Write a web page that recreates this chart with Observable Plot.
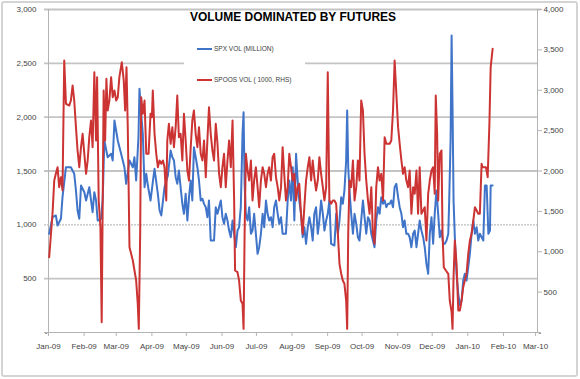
<!DOCTYPE html>
<html>
<head>
<meta charset="utf-8">
<script src="https://cdn.jsdelivr.net/npm/d3@7"></script>
<script src="https://cdn.jsdelivr.net/npm/@observablehq/plot@0.6"></script>
<style>
html,body{margin:0;padding:0;background:#fff;}
#wrap{position:relative;width:580px;height:379px;overflow:hidden;font-family:"Liberation Sans",Arial,sans-serif;}
#chart svg{display:block;}
#legend{position:absolute;left:184px;top:34px;width:121px;height:62px;background:#fff;font-size:6.5px;color:#404040;}
#legend .row{position:absolute;left:13px;height:8px;line-height:8px;white-space:nowrap;}
#legend .sw{position:absolute;left:0;top:3px;width:15px;height:2px;}
#legend .lbl{position:absolute;left:17px;top:0;}
#border{position:absolute;left:1px;top:1px;width:577px;height:376px;box-sizing:border-box;border:2px solid #d4d4d4;border-radius:3px;pointer-events:none;}
</style>
</head>
<body>
<div id="wrap">
  <div id="chart"></div>
  <div id="legend"></div>
  <div id="border"></div>
</div>
<script>
// ---- data (days since 2009-01-01) ----
const chartTitle = "VOLUME DOMINATED BY FUTURES";
const seriesNames = ["SPX VOL (MILLION)", "SPOOS VOL ( 1000, RHS)"];
const seriesColors = ["#3f74c9", "#cc3333"];

const spxDay = [0.6,3.5,6.4,7.9,10.8,12.2,15.2,19.5,22.4,23.9,25.3,26.8,28.3,31.2,32.7,35.5,38.4,39.9,41.4,42.8,45.8,47.2,48.6,51.5,54.5,55.9,57.4,60.3,63.2,66.1,67.6,70.5,73.4,74.8,76.3,78.3,79.2,80.7,82.1,83.6,85.1,86.5,88.8,90.8,92.3,95.2,96.7,98.2,101,103.9,
106.3,107.8,109.2,110.7,112.1,113.5,115,116.5,117.9,119.4,120.9,122.3,123.8,125.2,126.6,128.1,129.6,131,132.5,134,135.4,136.9,138.3,139.7,141.2,144.1,145.6,147.1,148.5,150,151.4,152.8,154.3,155.8,157.2,158.7,160.2,161.6,163.1,164.5,165.9,167.4,168.9,169.8,170.7,171.8,173.3,174.7,176.2,177.6,179,180.5,182,183.4,184.9,186.4,187.8,189.3,190.7,192.1,193.6,195.1,196.5,198,199.5,200.9,202.4,203.8,206.7,
208.2,209.6,211.1,212.6,214,215.5,216.9,218.3,219.8,221.3,222.7,224.2,225.7,227.1,228.6,230,231.4,232.9,234.4,235.8,237.3,238.8,240.2,241.7,243.1,244.5,246,248.9,250.4,251.9,253.3,254.8,256.2,257.6,259.1,260,260.9,262,263.5,265,266.4,267.9,269.3,270.7,272.2,273.7,275.1,276.6,278.1,279.5,281,282.4,283.8,285.3,286.8,288.2,289.7,291.2,292.6,294.1,295.5,297,298.4,299.9,301.3,302.8,304.3,305.7,307.2,308.6,310,311.5,
313,314.4,315.9,317.4,318.8,320.3,321.7,323.1,324.6,326.1,327.5,329,330.5,331.9,333.4,334.8,336.2,337.7,339.2,340.6,342.1,343.6,345,346.5,348,348.8,350,350.9,351.7,352.6,353.7,355.2,356.7,358.1,359.6,361,362.4,363.9,365.4,366.8,368.3,369.8,371.2,372.7,374.1,375.5,377,378.5,379.9,381.4,382.9,384.3,384.9,386.6];

const spxVol = [917,1071,1087,994,1056,1257,1535,1535,1474,1319,1133,1056,1365,1303,1226,1350,1117,1303,1226,1040,1056,1242,1783,1628,1660,1598,1969,1783,1660,1535,1381,1598,1535,1628,1412,1814,2263,2031,1845,1350,1474,1365,1226,1396,1520,1288,1133,1087,1350,1458,
1690,1628,1598,1443,1381,1505,1350,1195,1102,1288,1040,1257,1412,1226,1721,1628,1535,1412,1226,1242,1195,1164,1071,1226,854,854,1164,1102,1164,1226,1071,1009,1102,1040,947,885,1040,917,792,947,978,1164,1845,2046,1381,1102,1040,1164,917,947,1102,917,731,792,917,1102,978,1226,1102,1040,1071,978,1164,1226,1102,1009,1071,917,917,
1226,1412,1226,1535,1040,1660,1412,1226,1102,885,978,824,978,1071,978,854,1102,1164,917,1040,1226,1102,947,1040,1102,1226,824,808,1102,917,1040,1257,1195,1319,1598,2062,1535,1319,1102,917,1102,1009,885,854,1040,1226,1071,917,1071,1040,917,854,792,1040,1164,1102,1257,1195,1226,1164,1195,1195,1226,1164,1350,1381,1257,1164,1102,978,1040,917,
917,885,792,917,947,792,917,1040,947,885,792,638,545,917,1071,824,1102,1319,1102,885,947,824,824,854,917,1226,1783,2758,2093,1226,885,545,359,251,297,483,545,483,607,731,917,1040,917,978,854,917,885,854,1365,1365,917,947,1365,1365];

const spoosDay = [0.6,3.5,5,6.4,7.9,9.3,10.8,12.2,13.7,15.2,18.1,19.5,21,22.4,23.9,25.3,26.8,28.3,29.7,31.2,32.7,34.1,35.5,37,38.4,39.9,41.4,42.3,43.7,45.2,46.3,47.2,48,49.3,50.4,51.5,53,54.5,55.9,57.4,58.9,60.3,61.7,63.8,65.5,66.7,67.9,69,70.5,73.4,76.3,77.7,78.6,79.8,80.7,82.1,83.6,85.1,87.1,88.8,90,90.8,92.3,93.8,95.2,96.7,98.2,99.6,101,102.5,
103.4,104.8,106.3,107.8,109.2,110.7,112.1,113.5,115,116.5,117.9,119.4,120.9,122.3,123.8,125.2,126.6,128.1,129.6,131,132.5,134,135.4,136.9,138.3,139.7,141.2,142.7,144.1,145.6,147.1,148.5,150,151.4,152.8,154.3,155.8,157.2,158.7,160.2,161.6,162.4,164.5,165.9,167.4,168.9,169.8,170.7,171.8,173.3,174.7,176.2,177.6,179,180.5,182,183.4,184.9,186.4,187.8,189.3,190.7,192.1,193.6,195.1,196.5,198,199.5,200.9,202.4,203.8,205.2,206.7,
208.2,209.6,211.1,212.6,214,215.5,216.9,218.3,219.8,221.3,222.7,224.2,225.7,227.1,228.6,230,231.4,232.9,234.4,235.8,237.3,238.8,240.2,241.7,243.1,244,244.5,246,247.5,248.9,250.4,251.9,253.3,254.8,256.2,257.6,259.1,260,260.9,262,263.5,265,266.4,267.9,269.3,270.7,272.2,273.7,275.1,276.6,278.1,279.5,281,282.4,283.8,285.3,286.8,288.2,289.7,291.2,292.6,294.1,295.5,297,298.4,299.9,301.3,302.8,304.3,305.7,307.2,308.6,310,311.5,
313,314.4,315.9,317.4,318.8,320.3,321.7,323.1,324.6,326.1,327.5,329,330.5,331.9,333.4,334.8,336.2,337.1,338.3,339.2,340.6,342.1,343,344.1,345.9,348,349.3,350.9,351.7,352.6,353.7,355.2,356.7,358.1,359.6,361,362.4,363.9,365.4,366.8,368.3,369.8,371.2,372.7,374.1,375.5,377,377.9,379,380.8,382.3,383.8,384.9,386.6];

const spoosVol = [933,1470,1882,1965,2047,1800,1924,1759,3368,2832,2811,2873,3059,2873,2543,2254,2047,2295,2461,2213,1965,2130,2419,2625,2295,3224,2378,3162,1635,1304,128,1635,2997,2378,3142,2749,2873,3162,2914,2997,2873,2914,3162,3348,3121,2749,3286,2543,1057,892,644,355,45,1222,2914,2708,2873,2213,2213,2708,2667,2997,2461,2213,2047,2130,2089,2130,2047,1635,
2378,2584,2337,2543,2295,2543,2935,2419,2461,2130,2708,2378,2006,1882,2295,2625,2749,2461,2295,2543,2213,2130,2378,1924,2378,2790,2461,2254,2130,2584,2337,1965,1800,2047,2213,1800,2130,2378,2047,2625,1635,768,747,644,396,355,45,1222,2213,2006,1882,2130,1635,1882,2047,1800,1552,1882,2047,1965,1800,1965,2047,1882,2171,2213,1924,1800,1635,1800,2295,1965,1635,
1800,2213,2047,1882,1965,1635,1800,1841,1470,1222,1552,1882,2047,2171,1882,2130,1924,1759,1882,2171,1965,1800,1635,1800,3224,2171,1635,1594,1635,1635,1594,1222,850,727,644,603,396,45,1222,1882,1800,2130,1635,1800,2130,1882,2873,2749,2213,1882,1635,1470,1800,1222,1098,1800,2047,1882,1965,1635,2419,2337,2337,2337,2378,2749,3368,2956,2543,2337,2130,1965,2047,1882,
1800,2006,1470,1800,1718,2006,1470,2047,1470,1511,1552,1139,1718,1882,2006,2047,1718,2935,2461,1635,2213,2254,1222,809,768,727,396,252,45,685,1139,850,272,272,396,561,644,727,974,1139,1222,1387,1552,1511,1470,1470,2089,2047,2047,2047,1924,2584,3286,3513];

const leftTicks = [500, 1000, 1500, 2000, 2500, 3000];
const rightTicks = [500, 1000, 1500, 2000, 2500, 3000, 3500, 4000];
const leftMax = 3000, rightMax = 4000;

// ---- build ----
const T0 = Date.UTC(2009, 0, 1), DAY = 864e5;
const toDate = d => new Date(T0 + d * DAY);
const spx = spxDay.map((d, i) => ({date: toDate(d), v: spxVol[i]}));
const spoos = spoosDay.map((d, i) => ({date: toDate(d), v: spoosVol[i]}));
const k = leftMax / rightMax; // right-axis values mapped onto left scale
const xStart = new Date(T0), xEnd = new Date(Date.UTC(2010, 2, 2, 16));
const months = d3.utcMonth.range(xStart, new Date(Date.UTC(2010, 2, 2)));
const fmt = d3.format(",");
const gridCol = "#c4c4c4", axisCol = "#b4b4b4";

const plot = Plot.plot({
  width: 580, height: 379,
  marginLeft: 48, marginRight: 43, marginTop: 9, marginBottom: 47,
  style: {fontFamily: '"Liberation Sans", Arial, sans-serif', fontSize: "8px", color: "#444", background: "transparent"},
  x: {type: "utc", domain: [xStart, xEnd]},
  y: {domain: [0, leftMax]},
  marks: [
    Plot.ruleY(leftTicks.filter(v => v !== 1000 && v !== leftMax), {stroke: gridCol, strokeWidth: 1.8, insetLeft: -4}),
    Plot.ruleY([1000], {stroke: "#bdbdbd", strokeWidth: 1.3, strokeDasharray: "2,1", insetLeft: -4}),
    Plot.ruleY([leftMax], {stroke: gridCol, strokeWidth: 1.8, insetLeft: -4, insetRight: -4}),
    Plot.ruleY([0], {stroke: axisCol, strokeWidth: 1, insetLeft: -4, insetRight: -4}),
    Plot.ruleX([xStart], {stroke: axisCol, strokeWidth: 1}),
    Plot.ruleX([xEnd], {stroke: axisCol, strokeWidth: 1}),
    Plot.axisY(leftTicks, {anchor: "left", tickSize: 0, tickPadding: 12, tickFormat: fmt, label: null, fill: "#444"}),
    Plot.axisY([0], {anchor: "left", tickSize: 0, tickPadding: 1, tickFormat: () => "-", label: null, fill: "#444"}),
    Plot.axisY(rightTicks.map(v => v * k), {anchor: "right", tickSize: 4, tickPadding: 2, stroke: axisCol, tickFormat: d => fmt(Math.round(d / k)), label: null, fill: "#444"}),
    Plot.axisY([0], {anchor: "right", tickSize: 0, tickPadding: 1, tickFormat: () => "-", label: null, fill: "#444"}),
    Plot.axisX(months, {anchor: "bottom", tickSize: 4, tickPadding: 7, stroke: axisCol, tickFormat: d3.utcFormat("%b-%y"), label: null, fill: "#444"}),
    Plot.line(spx, {x: "date", y: "v", stroke: seriesColors[0], strokeWidth: 2, strokeLinejoin: "round"}),
    Plot.line(spoos, {x: "date", y: d => d.v * k, stroke: seriesColors[1], strokeWidth: 2, strokeLinejoin: "round"}),
    Plot.text([chartTitle], {text: d => d, frameAnchor: "top", dy: 11.7, lineAnchor: "bottom", fontSize: 12, fontWeight: "bold", fill: "#000"})
  ]
});
document.getElementById("chart").appendChild(plot);

// legend (inside the chart, white box like the original)
const legend = document.getElementById("legend");
const rowTops = [11, 41.5];
seriesNames.forEach((name, i) => {
  const row = document.createElement("div");
  row.className = "row";
  row.style.top = rowTops[i] + "px";
  const sw = document.createElement("div");
  sw.className = "sw";
  sw.style.background = seriesColors[i];
  const lbl = document.createElement("div");
  lbl.className = "lbl";
  lbl.textContent = name;
  row.appendChild(sw);
  row.appendChild(lbl);
  legend.appendChild(row);
});
</script>
</body>
</html>
